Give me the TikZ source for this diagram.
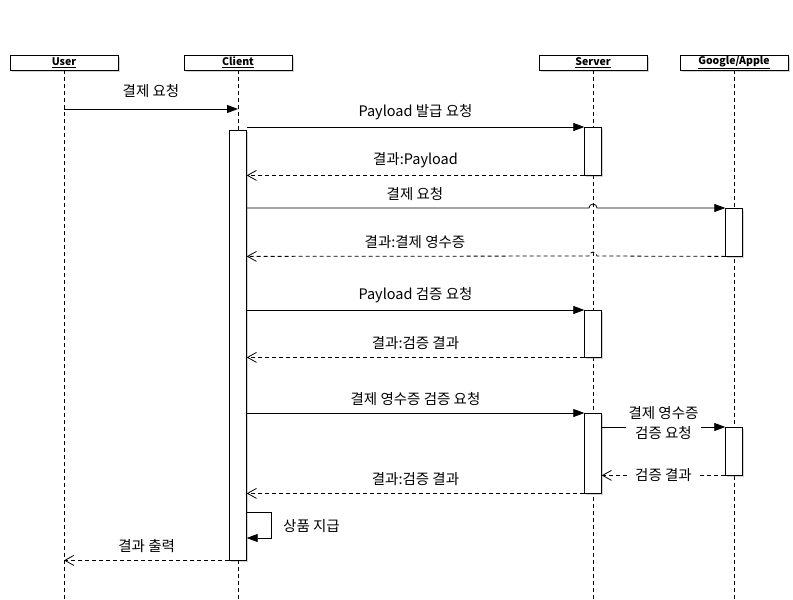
\documentclass[tikz,border=0pt]{standalone}
\usepackage{fontspec}
\setmainfont{Noto Sans CJK KR}
\usetikzlibrary{positioning,arrows.meta,shadows}
\tikzset{
  actor/.style={draw, fill=white, minimum width=108pt, minimum height=15pt, inner sep=0pt,
    font=\fontsize{10.5}{11}\selectfont\bfseries,
    drop shadow={shadow xshift=1.5pt, shadow yshift=-1.5pt, opacity=0.35}},
  life/.style={line width=0.7pt, dash pattern=on 4pt off 3pt},
  act/.style={draw, fill=white, minimum width=17pt, inner sep=0pt, anchor=north,
    drop shadow={shadow xshift=1.5pt, shadow yshift=-1.5pt, opacity=0.35}},
  call/.style={line width=0.8pt, -{Triangle[length=11pt,width=8pt]}},
  reply/.style={line width=0.8pt, dash pattern=on 4pt off 3pt, -{Straight Barb[length=9pt,width=10pt]}},
  msg/.style={font=\fontsize{14.5}{20}\selectfont, inner sep=2pt}
}
\begin{document}
\begin{tikzpicture}[x=1pt,y=-1pt]
\useasboundingbox (0,0) rectangle (793,600);
% participants
\node[actor] (user)   at (64,62.5)  {\underline{User}};
\node[actor] (client) at (238,62.5) {\underline{Client}};
\node[actor] (server) at (593,62.5) {\underline{Server}};
\node[actor] (store)  at (734,62.5) {\underline{Google/Apple}};
\foreach \p in {user,client,server,store}
  \draw[life] (\p.south) -- (\p.south |- 0,600);
% activations
\node[act, minimum height=430pt] (ca)  at (238,130) {};
\node[act, minimum height=48pt]  (sa1) at (593,127) {};
\node[act, minimum height=48pt]  (ga1) at (734,208) {};
\node[act, minimum height=47pt]  (sa2) at (593,310) {};
\node[act, minimum height=80pt]  (sa3) at (593,413) {};
\node[act, minimum height=48pt]  (ga2) at (734,427) {};
% messages
\draw[call] (user.south |- 0,109) -- node[msg, above=9pt] {결제 요청} (client.south |- 0,109);
\draw[call] (ca.east |- sa1.north) -- node[msg, above=5pt] {Payload 발급 요청} (sa1.north west);
\draw[reply] (sa1.south west) -- node[msg, above=5pt] {결과:Payload} (ca.east |- sa1.south);
\draw[call] (ca.east |- ga1.north) -- (589,208) arc[start angle=180, end angle=360, radius=4]
  -- (ga1.north west);
\node[msg, above=5pt] at (415,208) {결제 요청};
\draw[reply] (ga1.south west) -- (597,256) arc[start angle=0, end angle=-180, radius=4]
  -- (ca.east |- ga1.south);
\node[msg, above=5pt] at (415,256) {결과:결제 영수증};
\draw[call] (ca.east |- sa2.north) -- node[msg, above=5pt] {Payload 검증 요청} (sa2.north west);
\draw[reply] (sa2.south west) -- node[msg, above=5pt] {결과:검증 결과} (ca.east |- sa2.south);
\draw[call] (ca.east |- sa3.north) -- node[msg, above=5pt] {결제 영수증 검증 요청} (sa3.north west);
\draw[call] (sa3.east |- ga2.north) -- node[msg, fill=white, align=center, inner xsep=3pt, inner ysep=0pt, yshift=4pt, pos=0.5] {결제 영수증\\검증 요청} (ga2.north west);
\draw[reply] (ga2.south west) -- node[msg, fill=white, inner xsep=6pt] {검증 결과} (sa3.east |- ga2.south);
\draw[reply] (sa3.south west) -- node[msg, above=5pt] {결과:검증 결과} (ca.east |- sa3.south);
% self call
\coordinate (self) at (271,512);
\draw[call] (ca.east |- self) -- (self) -- (self |- 0,538) -- (ca.east |- 0,538);
\node[msg, right=10pt of self, yshift=-14pt] {상품 지급};
\draw[reply] (ca.south west) -- node[msg, above=5pt] {결과 출력} (user.south |- ca.south);
\end{tikzpicture}
\end{document}
